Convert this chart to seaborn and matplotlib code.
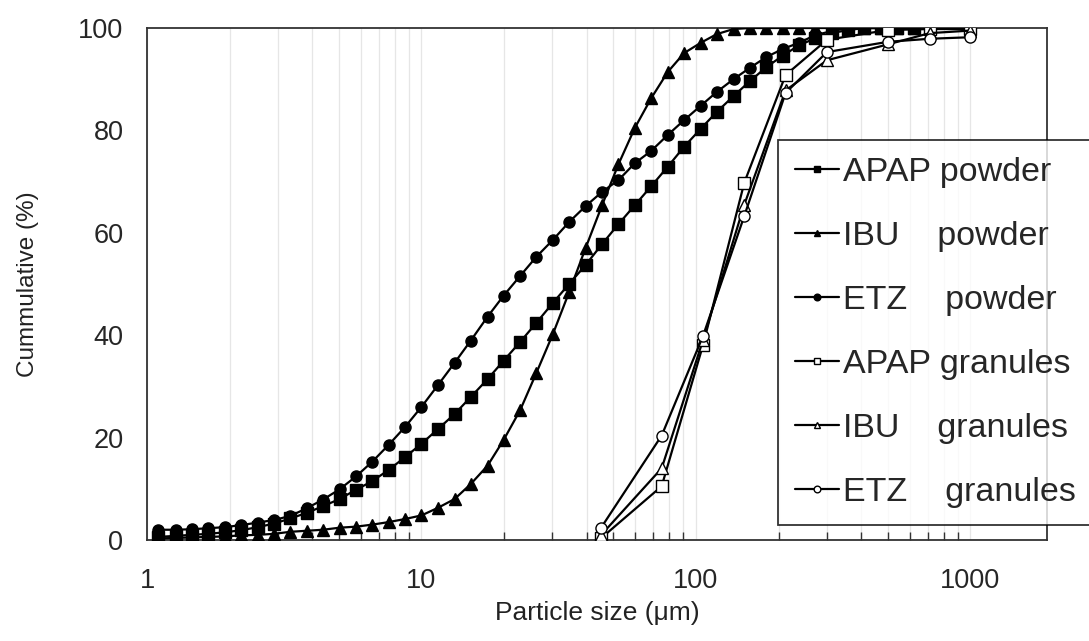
import numpy as np
import pandas as pd
import seaborn as sns
import matplotlib.pyplot as plt
from matplotlib.ticker import LogLocator, FixedLocator, NullFormatter

# particle size grid of the laser diffraction data (um)
size_powder = [1.1, 1.27, 1.46, 1.67, 1.92, 2.2, 2.53, 2.9, 3.33, 3.82, 4.38, 5.03, 5.77,
               6.62, 7.6, 8.72, 10, 11.5, 13.2, 15.1, 17.4, 19.9, 22.9, 26.2, 30.1, 34.5,
               39.6, 45.5, 52.2, 59.9, 68.7, 78.9, 90.5, 104, 119, 137, 157, 180, 207,
               237, 272, 312, 358, 411, 472, 542, 622]

apap_powder = [0.6, 0.8, 1.0, 1.2, 1.5, 1.9, 2.5, 3.2, 4.2, 5.3, 6.6, 8.0, 9.8,
               11.5, 13.7, 16.2, 18.8, 21.7, 24.6, 27.9, 31.4, 35.0, 38.7, 42.4, 46.3, 50.0,
               53.7, 57.8, 61.7, 65.4, 69.1, 72.9, 76.8, 80.3, 83.6, 86.7, 89.6, 92.3, 94.6,
               96.6, 98.0, 99.0, 99.6, 100, 100, 100, 100]
ibu_powder = [0.3, 0.4, 0.5, 0.6, 0.7, 0.9, 1.0, 1.2, 1.6, 1.8, 2.0, 2.4, 2.6,
              3.0, 3.5, 4.1, 4.8, 6.3, 8.0, 10.9, 14.5, 19.5, 25.4, 32.6, 40.2, 48.4,
              57.0, 65.4, 73.4, 80.5, 86.3, 91.4, 95.1, 97.1, 98.8, 99.8, 100, 100, 100,
              100, 100, 100, 100, 100, 100, 100, 100]
etz_powder = [2.0, 2.0, 2.1, 2.3, 2.5, 2.9, 3.4, 3.9, 4.7, 6.2, 7.9, 9.9, 12.4,
              15.3, 18.6, 22.1, 26.0, 30.3, 34.6, 38.9, 43.6, 47.7, 51.6, 55.3, 58.6, 62.1,
              65.2, 68.0, 70.3, 73.6, 76.0, 79.1, 82.0, 84.8, 87.5, 90.0, 92.2, 94.3, 95.9,
              97.1, 98.6, 99.4, 100, 100, 100, 100, 100]

# sieve sizes for the granules (um)
size_granules = [45, 75, 106, 150, 212, 300, 500, 710, 1000]
apap_granules = [0.3, 10.5, 38.0, 69.8, 90.8, 97.7, 99.6, 99.8, 99.8]
ibu_granules = [0.9, 14.0, 39.0, 65.5, 87.8, 93.7, 96.8, 99.0, 99.5]
etz_granules = [2.3, 20.4, 39.8, 63.3, 87.3, 95.3, 97.3, 97.9, 98.2]

series = [
    ("APAP powder", size_powder, apap_powder, "s", "black"),
    ("IBU    powder", size_powder, ibu_powder, "^", "black"),
    ("ETZ    powder", size_powder, etz_powder, "o", "black"),
    ("APAP granules", size_granules, apap_granules, "s", "white"),
    ("IBU    granules", size_granules, ibu_granules, "^", "white"),
    ("ETZ    granules", size_granules, etz_granules, "o", "white"),
]

sns.set_style("white")
plt.rcParams['font.family'] = ['Liberation Sans', 'DejaVu Sans']

fig = plt.figure(figsize=(10.89, 6.41), dpi=100)
ax = fig.add_axes([0.1350, 0.1576, 0.8264, 0.7987])

for label, xs, ys, mk, fc in series:
    sns.lineplot(x=xs, y=ys, ax=ax, color="black", linewidth=1.6, marker=mk,
                 markersize=8, markerfacecolor=fc, markeredgecolor="black",
                 markeredgewidth=1.0, label=label, sort=False, zorder=3)

ax.set_xscale("log")
ax.set_xlim(1, 1900)
ax.set_ylim(0, 100)
ax.xaxis.set_major_locator(FixedLocator([1, 10, 100, 1000]))
ax.set_xticklabels(["1", "10", "100", "1000"])
ax.xaxis.set_minor_locator(LogLocator(base=10, subs=np.arange(2, 10)))
ax.xaxis.set_minor_formatter(NullFormatter())
ax.set_yticks([0, 20, 40, 60, 80, 100])

ax.grid(True, which="both", axis="x", color="#e6e6e6", linewidth=0.9)
ax.grid(False, axis="y")
ax.set_axisbelow(True)

ax.tick_params(axis="both", which="major", direction="in", length=7, width=1.2,
               color="#333333", labelsize=19.5, pad=17)
ax.tick_params(axis="x", which="minor", direction="in", length=6, width=1.0,
               color="#333333", bottom=True)
ax.tick_params(axis="x", which="major", pad=20)
for sp in ax.spines.values():
    sp.set_color("#333333")
    sp.set_linewidth(1.3)

ax.set_xlabel("Particle size (\u03bcm)", fontsize=19, labelpad=5, color="#222222")
ax.set_ylabel("Cummulative (%)", fontsize=17.5, labelpad=28, color="#222222")

leg = ax.legend(loc="upper left", bbox_to_anchor=(0.7144, 0.7816),
                bbox_transform=fig.transFigure, frameon=True, fancybox=False,
                edgecolor="black", fontsize=24.5, handlelength=1.3, handletextpad=0.1,
                labelspacing=0.97, markerscale=0.6, borderpad=0.5, borderaxespad=0)
leg.get_frame().set_linewidth(1.3)
leg.set_zorder(5)

fig.savefig("out.png", dpi=100)
